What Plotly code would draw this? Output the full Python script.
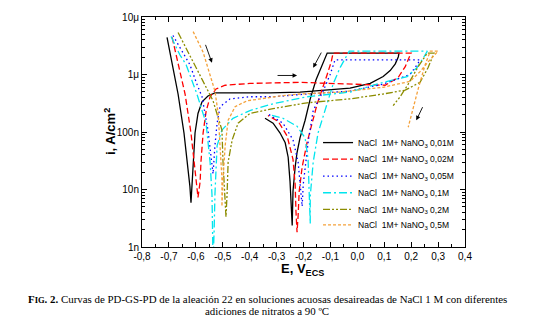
import plotly.graph_objects as go

# ---- data (E in V_ECS, i in A/cm2), forward scan -> GS step -> reverse scan ----
E_001 = [-0.707, -0.688, -0.666, -0.644, -0.629, -0.622, -0.618, -0.614, -0.610, -0.603, -0.592, -0.577,
         -0.555, -0.529, -0.436, -0.324, -0.213, -0.101, -0.027, 0.048, 0.096, 0.122, 0.141, 0.152, 0.155,
         -0.112, -0.131, -0.153, -0.175, -0.194, -0.213, -0.224, -0.231, -0.239, -0.242,
         -0.246, -0.250, -0.257, -0.268, -0.287, -0.313, -0.343]
I_001 = [4.41e-6, 1.48e-6, 4.58e-7, 9.6e-8, 2.46e-8, 1.13e-8, 5.9e-9, 1.13e-8, 3.0e-8, 9.6e-8, 2.1e-7, 3.35e-7,
         4.24e-7, 4.8e-7, 4.8e-7, 4.8e-7, 4.95e-7, 5.4e-7, 5.8e-7, 7.0e-7, 9.2e-7, 1.17e-6, 1.53e-6, 2.02e-6, 2.36e-6,
         2.36e-6, 1.48e-6, 8.2e-7, 3.77e-7, 1.6e-7, 7.9e-8, 4.4e-8, 2.46e-8, 9.3e-9, 2.36e-9,
         6.3e-9, 1.37e-8, 3.64e-8, 6.5e-8, 9.6e-8, 1.42e-7, 1.73e-7]

E_002 = [-0.688, -0.666, -0.640, -0.618, -0.603, -0.596, -0.592, -0.584, -0.581, -0.573, -0.562, -0.547,
         -0.525, -0.491, -0.399, -0.213, -0.064, 0.048, 0.103, 0.152, 0.178, 0.196, 0.200,
         -0.090, -0.097, -0.112, -0.131, -0.149, -0.168, -0.187, -0.205, -0.216, -0.220, -0.224,
         -0.228, -0.231, -0.239, -0.261, -0.294, -0.332]
I_002 = [4.41e-6, 1.48e-6, 4.58e-7, 9.6e-8, 2.46e-8, 1.13e-8, 7.3e-9, 1.37e-8, 3.0e-8, 9.6e-8, 2.26e-7, 4.1e-7,
         5.6e-7, 6.5e-7, 7.0e-7, 7.3e-7, 7.0e-7, 6.8e-7, 6.5e-7, 8.9e-7, 1.37e-6, 2.18e-6, 2.36e-6,
         2.36e-6, 1.66e-6, 1.0e-6, 5.6e-7, 3.1e-7, 1.42e-7, 6.5e-8, 2.46e-8, 9.3e-9, 3.5e-9, 1.8e-9,
         4.2e-9, 1.22e-8, 3.35e-8, 8.55e-8, 1.53e-7, 1.94e-7]

E_005 = [-0.685, -0.659, -0.622, -0.596, -0.577, -0.555, -0.540, -0.536, -0.529, -0.521, -0.510, -0.473,
         -0.399, -0.313, -0.187, -0.027, 0.096, 0.196, 0.222, 0.233,
         -0.083, -0.101, -0.127, -0.164, -0.183, -0.194, -0.201, -0.205,
         -0.213, -0.220, -0.239, -0.276, -0.335]
I_005 = [4.77e-6, 2.87e-6, 1.48e-6, 6.8e-7, 4.1e-7, 1.08e-7, 3.0e-8, 1.87e-8, 5.8e-8, 1.42e-7, 2.76e-7, 3.77e-7,
         4.1e-7, 4.1e-7, 4.58e-7, 5.15e-7, 6.8e-7, 1.0e-6, 1.48e-6, 1.79e-6,
         1.79e-6, 1.0e-6, 5.15e-7, 2.36e-7, 6.5e-8, 2.27e-8, 1.22e-8, 5.1e-9,
         1.22e-8, 3.0e-8, 7.3e-8, 1.42e-7, 2.1e-7]

E_01 = [-0.692, -0.659, -0.636, -0.596, -0.562, -0.547, -0.540, -0.536, -0.536, -0.532, -0.529, -0.521,
        -0.503, -0.462, -0.399, -0.313, -0.187, -0.027, 0.096, 0.185, 0.222, 0.245, 0.260,
        -0.030, -0.064, -0.090, -0.112, -0.146, -0.164, -0.175, -0.175,
        -0.179, -0.183, -0.194, -0.224, -0.276, -0.317]
I_01 = [4.58e-6, 2.18e-6, 1.48e-6, 4.58e-7, 1.42e-7, 3.0e-8, 8.2e-9, 1.95e-9, 5.0e-10, 1.95e-9, 8.2e-9, 5.8e-8,
        1.08e-7, 1.73e-7, 2.36e-7, 3.1e-7, 4.1e-7, 4.95e-7, 7.3e-7, 9.2e-7, 1.32e-6, 1.94e-6, 2.55e-6,
        2.55e-6, 1.32e-6, 6.8e-7, 3.1e-7, 9.6e-8, 3.0e-8, 7.6e-9, 2.55e-9,
        9.3e-9, 3.35e-8, 7.9e-8, 1.26e-7, 1.73e-7, 1.94e-7]

E_02 = [-0.666, -0.622, -0.573, -0.536, -0.517, -0.503, -0.499, -0.491, -0.488, -0.484, -0.480, -0.465,
        -0.443, -0.399, -0.313, -0.187, -0.027, 0.096, 0.178, 0.233, 0.263, 0.285,
        0.260, 0.226, 0.189, 0.159, 0.133]
I_02 = [5.36e-6, 2.18e-6, 7.6e-7, 3.48e-7, 1.87e-7, 1.08e-7, 3.0e-8, 8.2e-9, 3.35e-9, 8.2e-9, 3.0e-8, 7.3e-8,
        1.42e-7, 2.1e-7, 2.55e-7, 3.22e-7, 3.77e-7, 4.58e-7, 5.36e-7, 7.3e-7, 1.32e-6, 2.36e-6,
        2.36e-6, 1.37e-6, 6.8e-7, 4.1e-7, 2.87e-7]

E_05 = [-0.610, -0.573, -0.540, -0.529, -0.517, -0.510, -0.503, -0.503, -0.499, -0.491, -0.480, -0.454,
        -0.410, -0.287, -0.213, -0.064, 0.096, 0.196, 0.233, 0.263, 0.300,
        0.271, 0.252, 0.226, 0.204, 0.189]
I_05 = [5.57e-6, 2.45e-6, 7.6e-7, 5.15e-7, 2.1e-7, 5.8e-8, 1.53e-8, 5.1e-9, 1.53e-8, 5.8e-8, 1.6e-7, 2.76e-7,
        3.48e-7, 4.24e-7, 4.58e-7, 4.95e-7, 6.0e-7, 7.6e-7, 1.12e-6, 1.66e-6, 2.55e-6,
        2.55e-6, 1.48e-6, 5.6e-7, 2.26e-7, 1.21e-7]

SERIES_NAMES = ["NaCl \u00a01M+ NaNO<sub>3</sub> 0,01M", "NaCl \u00a01M+ NaNO<sub>3</sub> 0,02M",
                "NaCl \u00a01M+ NaNO<sub>3</sub> 0,05M", "NaCl \u00a01M+ NaNO<sub>3</sub> 0,1M",
                "NaCl \u00a01M+ NaNO<sub>3</sub> 0,2M", "NaCl \u00a01M+ NaNO<sub>3</sub> 0,5M"]

X_TICKS = [-0.8, -0.7, -0.6, -0.5, -0.4, -0.3, -0.2, -0.1, 0.0, 0.1, 0.2, 0.3, 0.4]
X_TICK_LABELS = ["-0,8", "-0,7", "-0,6", "-0,5", "-0,4", "-0,3", "-0,2", "-0,1", "0,0", "0,1", "0,2", "0,3", "0,4"]
Y_TICKS = [1e-9, 1e-8, 1e-7, 1e-6, 1e-5]
Y_TICK_LABELS = ["1n", "10n", "100n", "1\u03bc", "10\u03bc"]

# ---- styles ----
styles = [
    dict(color="#000000", dash="solid"),
    dict(color="#FF0000", dash="6px,3px"),
    dict(color="#0000FF", dash="1.5px,3px"),
    dict(color="#00E5EE", dash="8px,3px,2px,3px"),
    dict(color="#8C8C00", dash="7px,2px,2px,2px,2px,2px"),
    dict(color="#F4A13A", dash="3px,2px"),
]
legend_ids = ["legend", "legend2", "legend3", "legend4", "legend5", "legend6"]
legend_tops = [0.517, 0.445, 0.371, 0.299, 0.227, 0.159]   # paper y of each legend row box

data = [(E_001, I_001), (E_002, I_002), (E_005, I_005), (E_01, I_01), (E_02, I_02), (E_05, I_05)]

fig = go.Figure()
for (ex, iy), name, st, lid in zip(data, SERIES_NAMES, styles, legend_ids):
    fig.add_trace(go.Scatter(x=ex, y=iy, mode="lines", name=name, legend=lid,
                             line=dict(color=st["color"], dash=st["dash"], width=1.3)))

axis_common = dict(showline=True, linecolor="black", linewidth=1, mirror="allticks",
                   ticks="inside", ticklen=5, tickcolor="black", tickwidth=1,
                   showgrid=False, zeroline=False, ticklabeloverflow="allow",
                   tickfont=dict(family="Liberation Sans, Arial", size=10, color="black"))

fig.update_xaxes(range=[-0.8, 0.4], tickmode="array", tickvals=X_TICKS, ticktext=X_TICK_LABELS,
                 minor=dict(ticks="inside", ticklen=3, tickcolor="black", dtick=0.05),
                 **axis_common)
fig.update_yaxes(type="log", range=[-9, -5], tickmode="array", tickvals=Y_TICKS, ticktext=Y_TICK_LABELS,
                 minor=dict(ticks="inside", ticklen=3, tickcolor="black", dtick="D1"),
                 **axis_common)

# scan-direction arrows (log10 units on y)
arrows = [(-0.540, -5.797, -0.566, -5.458), (-0.224, -6.017, -0.302, -6.017),
          (-0.164, -5.881, -0.131, -5.593), (0.219, -6.797, 0.245, -6.542)]
for hx, hy, tx, ty in arrows:
    fig.add_annotation(x=hx, y=hy, ax=tx, ay=ty, xref="x", yref="y", axref="x", ayref="y",
                       showarrow=True, arrowhead=2, arrowsize=1, arrowwidth=0.9, arrowcolor="black", text="")

fig.add_annotation(text="<b>i, A/cm<sup>2</sup></b>", textangle=-90, xref="paper", yref="paper",
                   x=-0.099, y=0.50, xanchor="center", yanchor="middle", showarrow=False,
                   font=dict(family="Liberation Sans, Arial", size=13, color="black"))
fig.add_annotation(text="<b>E, V<sub>ECS</sub></b>", xref="paper", yref="paper",
                   x=0.498, y=-0.097, xanchor="center", yanchor="middle", showarrow=False,
                   font=dict(family="Liberation Sans, Arial", size=13, color="black"))

cap_font = dict(family="Liberation Serif, Times New Roman", size=10.9, color="black")
fig.add_annotation(text="<b>F<span style='font-size:8.5px'>IG</span>. 2.</b> Curvas de PD-GS-PD de la aleación 22 en soluciones acuosas desaireadas de NaCl 1 M con diferentes",
                   xref="paper", yref="paper", x=0.3885, y=-0.2246, xanchor="center", yanchor="middle",
                   showarrow=False, font=cap_font)
fig.add_annotation(text="adiciones de nitratos a 90 ºC",
                   xref="paper", yref="paper", x=0.3885, y=-0.2797, xanchor="center", yanchor="middle",
                   showarrow=False, font=cap_font)

legend_font = dict(family="Liberation Sans, Arial", size=8.5, color="black")
legend_layout = {lid: dict(x=0.545, y=top, xanchor="left", yanchor="top", bgcolor="rgba(0,0,0,0)",
                           font=legend_font, itemwidth=30)
                 for lid, top in zip(legend_ids, legend_tops)}

# page body has an 8px default margin: figure is shrunk so the plot lands at the reference position
fig.update_layout(
    width=535, height=319,
    margin=dict(l=134, r=78, t=3, b=80),
    paper_bgcolor="white", plot_bgcolor="white",
    showlegend=True,
    **legend_layout,
)

fig.write_html("out.html")
